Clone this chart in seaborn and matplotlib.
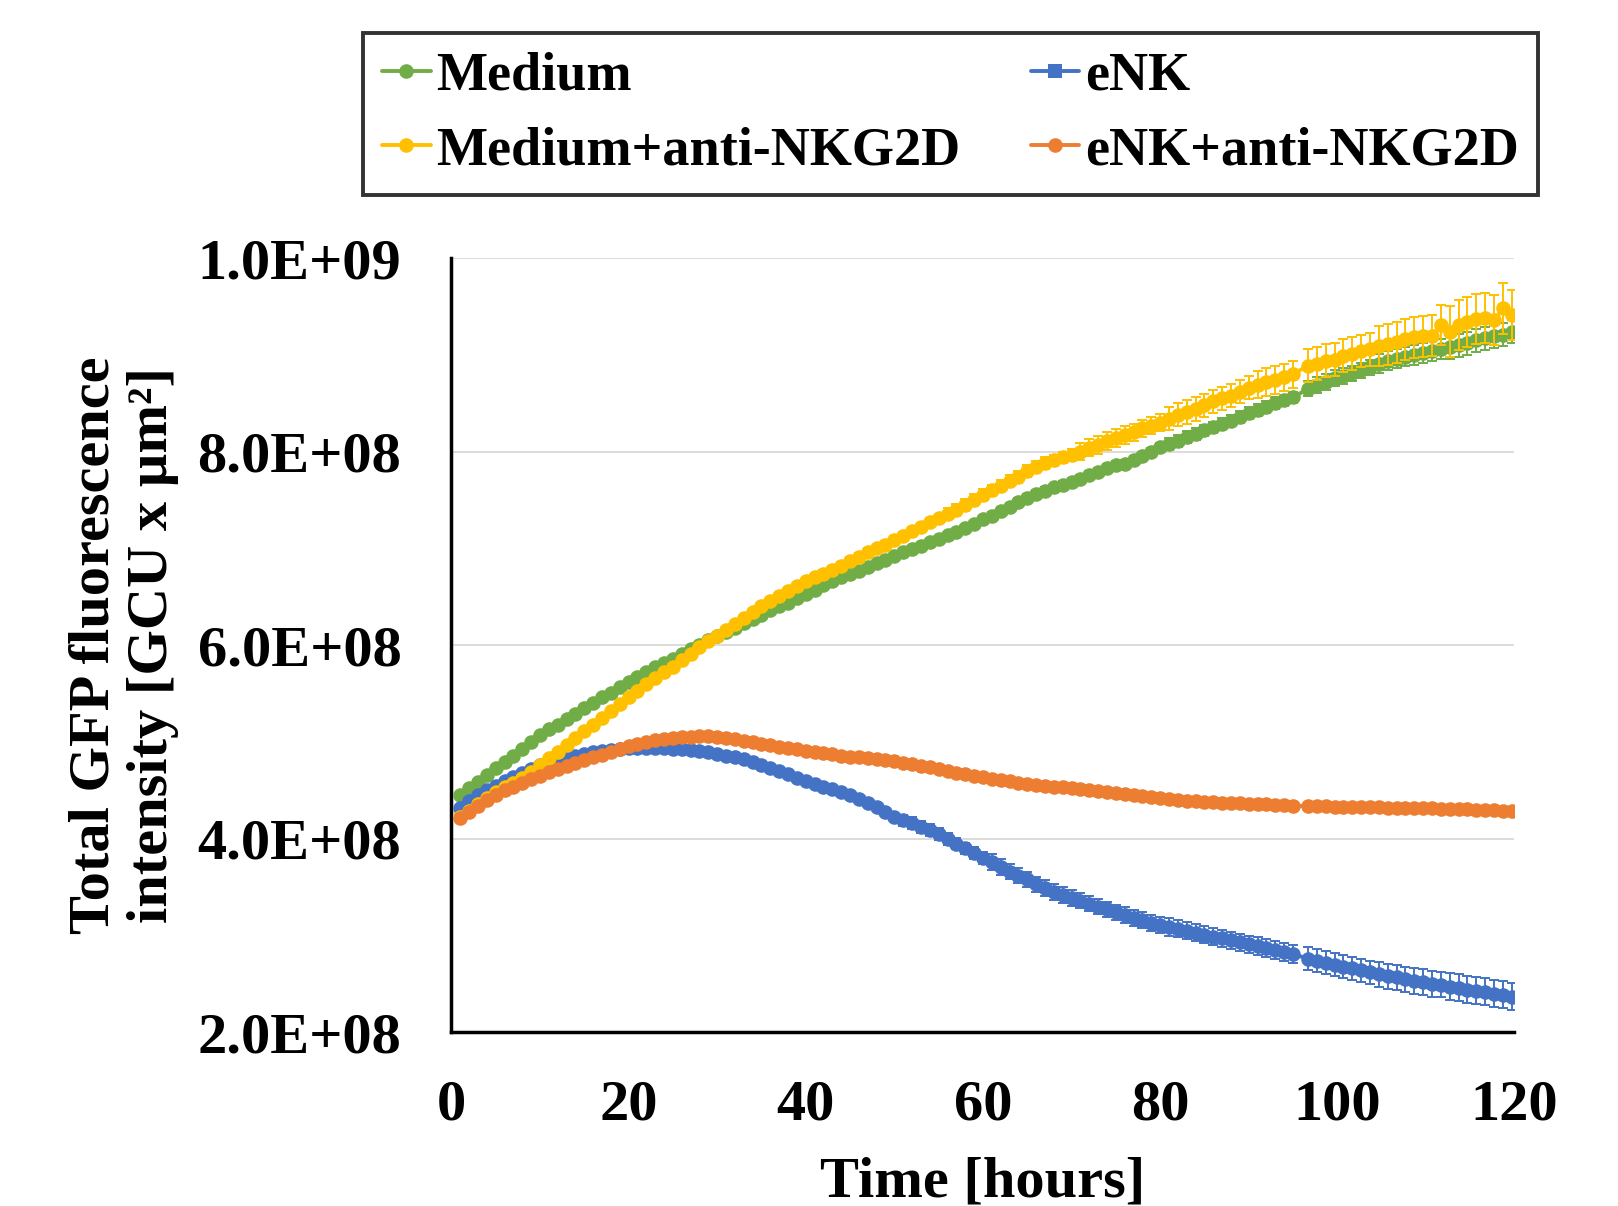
import numpy as np
import pandas as pd
import matplotlib
matplotlib.use("Agg")
import matplotlib.pyplot as plt
import seaborn as sns
from matplotlib.lines import Line2D
from matplotlib.ticker import FuncFormatter

# ======== data (values in 1E+08 GCU x um2) ========
# hourly scans 1..95, one scan missing, then 24 more
hours = list(range(1, 96)) + [96.7 + i for i in range(24)]

medium = [4.45, 4.52, 4.59, 4.66, 4.73, 4.79, 4.86, 4.93, 5.00, 5.07,
          5.13, 5.18, 5.24, 5.29, 5.35, 5.40, 5.46, 5.51, 5.57, 5.62,
          5.67, 5.72, 5.77, 5.82, 5.86, 5.91, 5.96, 6.00, 6.05, 6.09,
          6.14, 6.18, 6.23, 6.27, 6.31, 6.36, 6.40, 6.44, 6.49, 6.53,
          6.57, 6.62, 6.66, 6.70, 6.74, 6.77, 6.81, 6.85, 6.88, 6.92,
          6.96, 6.99, 7.03, 7.07, 7.10, 7.14, 7.17, 7.21, 7.25, 7.30,
          7.34, 7.39, 7.43, 7.48, 7.52, 7.56, 7.59, 7.63, 7.66, 7.69,
          7.72, 7.76, 7.79, 7.83, 7.86, 7.87, 7.91, 7.95, 8.00, 8.05,
          8.08, 8.11, 8.15, 8.18, 8.22, 8.25, 8.29, 8.32, 8.36, 8.40,
          8.43, 8.46, 8.50, 8.53, 8.56,
          8.65, 8.69, 8.72, 8.76, 8.78, 8.81, 8.84, 8.87, 8.91, 8.94,
          8.96, 8.98, 9.00, 9.02, 9.04, 9.06, 9.08, 9.10, 9.12, 9.15,
          9.17, 9.19, 9.21, 9.24]

enk = [4.32, 4.39, 4.45, 4.50, 4.55, 4.60, 4.64, 4.68, 4.72, 4.76,
       4.79, 4.82, 4.84, 4.86, 4.88, 4.90, 4.91, 4.92, 4.93, 4.94,
       4.94, 4.94, 4.94, 4.94, 4.93, 4.93, 4.92, 4.91, 4.90, 4.88,
       4.86, 4.84, 4.82, 4.79, 4.76, 4.73, 4.70, 4.67, 4.63, 4.60,
       4.57, 4.54, 4.51, 4.48, 4.45, 4.41, 4.37, 4.33, 4.28, 4.23,
       4.19, 4.16, 4.12, 4.09, 4.05, 4.00, 3.95, 3.90, 3.85, 3.80,
       3.76, 3.71, 3.66, 3.62, 3.58, 3.53, 3.49, 3.45, 3.42, 3.39,
       3.36, 3.33, 3.30, 3.27, 3.24, 3.21, 3.18, 3.16, 3.13, 3.11,
       3.09, 3.07, 3.05, 3.03, 3.01, 2.99, 2.97, 2.95, 2.93, 2.91,
       2.89, 2.87, 2.85, 2.83, 2.81,
       2.76, 2.74, 2.72, 2.70, 2.68, 2.66, 2.64, 2.62, 2.60, 2.58,
       2.57, 2.55, 2.53, 2.52, 2.50, 2.49, 2.47, 2.46, 2.44, 2.43,
       2.42, 2.40, 2.39, 2.37]

medium_anti = [4.22, 4.29, 4.36, 4.42, 4.48, 4.53, 4.58, 4.63, 4.69, 4.76,
               4.83, 4.90, 4.97, 5.04, 5.11, 5.18, 5.25, 5.32, 5.39, 5.46,
               5.53, 5.60, 5.66, 5.72, 5.78, 5.85, 5.91, 5.98, 6.04, 6.10,
               6.16, 6.22, 6.28, 6.34, 6.40, 6.46, 6.51, 6.56, 6.61, 6.66,
               6.70, 6.74, 6.78, 6.82, 6.87, 6.91, 6.96, 7.00, 7.04, 7.09,
               7.13, 7.18, 7.22, 7.27, 7.31, 7.36, 7.40, 7.45, 7.50, 7.55,
               7.60, 7.65, 7.70, 7.74, 7.80, 7.84, 7.88, 7.91, 7.94, 7.97,
               8.00, 8.04, 8.07, 8.11, 8.14, 8.17, 8.20, 8.24, 8.27, 8.30,
               8.34, 8.38, 8.41, 8.44, 8.48, 8.52, 8.55, 8.58, 8.62, 8.66,
               8.69, 8.72, 8.74, 8.77, 8.80,
               8.89, 8.91, 8.94, 8.95, 8.99, 9.01, 9.04, 9.06, 9.09, 9.11,
               9.13, 9.16, 9.18, 9.19, 9.20, 9.31, 9.24, 9.31, 9.34, 9.37,
               9.38, 9.36, 9.48, 9.41]

enk_anti = [4.21, 4.28, 4.34, 4.40, 4.45, 4.50, 4.54, 4.58, 4.62, 4.65,
            4.69, 4.72, 4.75, 4.78, 4.81, 4.84, 4.87, 4.90, 4.93, 4.96,
            4.98, 5.00, 5.02, 5.03, 5.04, 5.05, 5.05, 5.06, 5.06, 5.05,
            5.04, 5.03, 5.01, 5.00, 4.98, 4.97, 4.95, 4.94, 4.93, 4.91,
            4.90, 4.89, 4.88, 4.86, 4.85, 4.84, 4.83, 4.82, 4.81, 4.80,
            4.78, 4.77, 4.75, 4.74, 4.72, 4.70, 4.68, 4.67, 4.65, 4.64,
            4.62, 4.61, 4.60, 4.58, 4.57, 4.56, 4.55, 4.54, 4.53, 4.52,
            4.51, 4.50, 4.49, 4.48, 4.47, 4.46, 4.45, 4.44, 4.43, 4.42,
            4.41, 4.40, 4.39, 4.39, 4.38, 4.38, 4.37, 4.37, 4.37, 4.36,
            4.36, 4.36, 4.35, 4.35, 4.34,
            4.34, 4.34, 4.34, 4.33, 4.33, 4.33, 4.33, 4.33, 4.33, 4.32,
            4.32, 4.32, 4.32, 4.32, 4.32, 4.31, 4.31, 4.31, 4.31, 4.30,
            4.30, 4.30, 4.29, 4.29]

# standard deviations, same units
medium_sd = [0.02] * 30 + [0.03] * 30 + [0.04] * 20 + [0.06] * 15 + \
            [0.08] * 8 + [0.10] * 8 + [0.12] * 8
enk_sd = [0.01] * 40 + [0.03] * 10 + [0.06] * 10 + [0.08] * 20 + [0.09] * 15 + \
         [0.12] * 8 + [0.13] * 8 + [0.14] * 8
medium_anti_sd = [0.01] * 25 + [0.02] * 15 + [0.04] * 15 + [0.06] * 15 + \
                 [0.09] * 10 + [0.12] * 10 + [0.14] * 5 + \
                 [0.17] * 8 + [0.21] * 8 + [0.26] * 8
enk_anti_sd = [0.02] * 14 + [0.03] * 46 + [0.02] * 35 + [0.015] * 24

labels = ["Medium", "eNK", "Medium+anti-NKG2D", "eNK+anti-NKG2D"]
colors = ["#70AD47", "#4472C4", "#FFC000", "#ED7D31"]
legend_markers = ["o", "s", "o", "o"]
series = [medium, enk, medium_anti, enk_anti]
errors = [medium_sd, enk_sd, medium_anti_sd, enk_anti_sd]

# ======== plot ========
sns.set_style("white")
plt.rcParams['font.family'] = ['Liberation Serif', 'DejaVu Serif']
plt.rcParams['font.weight'] = 'bold'
plt.rcParams['text.color'] = 'black'
plt.rcParams['axes.labelcolor'] = 'black'
plt.rcParams['xtick.color'] = 'black'
plt.rcParams['ytick.color'] = 'black'

fig = plt.figure(figsize=(16.18, 12.06), dpi=100)
ax = fig.add_axes([0.279, 0.144, 0.936 - 0.279, 0.786 - 0.144])

for i in range(len(labels)):
    df = pd.DataFrame({"time": hours,
                       "value": np.array(series[i]) * 1e8})
    ax.errorbar(df["time"], df["value"], yerr=np.array(errors[i]) * 1e8,
                fmt="none", ecolor=colors[i], elinewidth=1.4, capsize=3.5,
                capthick=1.4, zorder=2 + 2 * i)
    sns.lineplot(data=df, x="time", y="value", ax=ax, color=colors[i],
                 marker="o", markersize=10.5, markeredgewidth=0, linewidth=2.8,
                 sort=False, legend=False, zorder=3 + 2 * i)

ax.set_xlim(0, 120)
ax.set_ylim(2e8, 1e9)
ax.set_xticks(range(0, 121, 20))
ax.set_yticks(np.arange(2e8, 1.01e9, 2e8))
ax.yaxis.set_major_formatter(FuncFormatter(lambda v, p: f"{v:.1E}"))
ax.grid(axis="y", color="#D9D9D9", linewidth=1.3)
ax.set_axisbelow(True)
for s in ["top", "right"]:
    ax.spines[s].set_visible(False)
for s in ["left", "bottom"]:
    ax.spines[s].set_color("black")
    ax.spines[s].set_linewidth(2.5)
ax.tick_params(axis="both", direction="out", length=16, width=2,
               color="black", labelcolor="black", labelsize=42)
ax.tick_params(axis="y", pad=20)
ax.tick_params(axis="x", pad=18)
for lab in ax.get_xticklabels() + ax.get_yticklabels():
    lab.set_fontweight("bold")

ax.set_xlabel("Time [hours]", fontsize=42, fontweight="bold", labelpad=18,
              color="black")
ax.set_ylabel("")
fig.text(0.0766, 0.465, "Total GFP fluorescence\nintensity [GCU x \u00b5m\u00b2]",
         rotation=90, ha="center", va="center", multialignment="center",
         fontsize=42, fontweight="bold", linespacing=1.15, color="black")

# matplotlib fills legend columns first: reorder so rows read Medium | eNK
order = [0, 2, 1, 3]
handles = [Line2D([0], [0], color=colors[i], marker=legend_markers[i],
                  markersize=10.5, linewidth=2.8, markeredgewidth=0)
           for i in order]
leg = fig.legend(handles, [labels[i] for i in order], ncol=2, loc="upper left",
                 bbox_to_anchor=(363 / 1618, 1 - 33 / 1206),
                 prop={"size": 39, "weight": "bold"}, frameon=True,
                 fancybox=False, edgecolor="black", handlelength=0.9,
                 handletextpad=0.1, columnspacing=1.3, labelspacing=0.45,
                 borderpad=0.35, borderaxespad=0)
leg.get_frame().set_linewidth(2.8)

fig.savefig("out.png", dpi=100)
